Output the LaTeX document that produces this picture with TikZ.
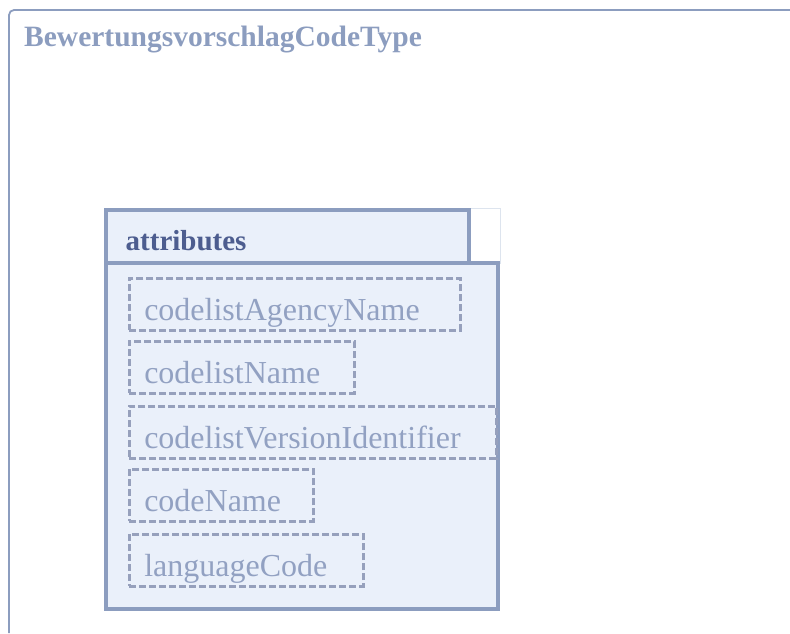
\documentclass[tikz,border=0pt]{standalone}
\usepackage{fontspec}
\setmainfont{Liberation Serif}
\definecolor{xsdcolor0001}{RGB}{140,157,191}
\definecolor{xsdcolor0002}{RGB}{234,240,250}
\definecolor{xsdcolor0003}{RGB}{77,93,143}
\definecolor{xsdcolor0004}{RGB}{146,161,194}
\definecolor{xsdcolor0005}{RGB}{150,160,188}
\definecolor{xsdcolor0006}{RGB}{221,228,238}
\begin{document}
\begin{tikzpicture}[yscale=-1
,xstyle0/.style={color=xsdcolor0001,line width=1.8pt,rounded corners=5pt}
,xstyle1/.style={color=xsdcolor0001,fill=xsdcolor0002,line width=4pt}
,xstyle2/.style={color=xsdcolor0006,line width=1pt}
,xstyle3/.style={anchor=base west,inner sep=0,color=xsdcolor0001,font=\fontsize{29.5pt}{34pt}\bfseries\selectfont}
,xstyle4/.style={anchor=base west,inner sep=0,color=xsdcolor0003,font=\fontsize{29pt}{34pt}\bfseries\selectfont}
,xstyle5/.style={anchor=north west,draw=xsdcolor0005,line width=2.5pt,dash pattern=on 7pt off 3pt,inner xsep=15pt,inner ysep=0pt,text height=42pt,text depth=10pt,align=left,text=xsdcolor0004,font=\fontsize{32pt}{38pt}\selectfont}
]
\useasboundingbox (0pt,0pt) rectangle (790pt,633pt);
\draw[xstyle0] (9pt,633pt) -- (9pt,10pt) -- (790pt,10pt);
\node (typename) at (24pt,46.5pt)[xstyle3]{BewertungsvorschlagCodeType};
\draw[xstyle2] (469pt,208pt) rectangle (500pt,263pt);
\draw[xstyle1] (106pt,263pt) rectangle (498pt,609pt);
\draw[xstyle1] (106pt,210pt) rectangle (469pt,263pt);
\node (attributes) at (125.5pt,250pt)[xstyle4]{attributes};
\node (agencyname) at (128pt,277pt)[xstyle5,text width=301pt]{codelistAgencyName};
\node (listname) at (128pt,340pt)[xstyle5,text width=195pt]{codelistName};
\node (versionid) at (128pt,405pt)[xstyle5,text width=337pt]{codelistVersionIdentifier};
\node (codename) at (128pt,468pt)[xstyle5,text width=154pt]{codeName};
\node (languagecode) at (128pt,533pt)[xstyle5,text width=204pt]{languageCode};
\end{tikzpicture}
\end{document}
